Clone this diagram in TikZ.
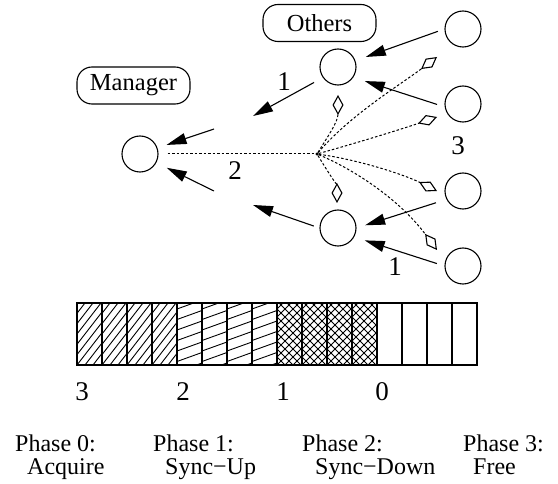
\documentclass[tikz,border=0pt]{standalone}
\usepackage{fontspec}
\setmainfont{Liberation Serif}
\usetikzlibrary{arrows.meta}
\begin{document}
\begin{tikzpicture}[x=1pt,y=-1pt,
  proc/.style={circle,draw,line width=1.1pt,minimum size=36pt,inner sep=0pt},
  tag/.style={draw,line width=1.1pt,rounded corners=15pt,minimum width=113pt,minimum height=37pt,inner sep=0pt,font=\fontsize{24.5}{28}\selectfont},
  msg/.style={line width=1.1pt,-{Triangle[length=20pt,width=11pt]}},
  sync/.style={line width=1pt,dash pattern=on 2.5pt off 2pt,-{Diamond[open,length=20pt,width=11pt,line width=1.1pt]}},
  dots/.style={line width=1pt,dash pattern=on 2.5pt off 2pt},
  num/.style={font=\fontsize{27}{30}\selectfont,inner sep=0pt},
  phase/.style={font=\fontsize{24}{23}\selectfont,inner sep=0pt,align=left,anchor=north west},
  cell/.style={draw,line width=1.1pt},
  hatch/.style={line width=0.9pt}]
\useasboundingbox (0,0) rectangle (558,484);

% labels
\node[tag] (mgr) at (133.5,85.5) {Manager};
\node[tag] (oth) at (319.5,23) {Others};

% processes
\node[proc] (C)  at (140,154) {};
\node[proc] (M1) at (338,67) {};
\node[proc] (B1) at (338,228) {};
\node[proc] (R1) at (463,29) {};
\node[proc] (R2) at (463,104) {};
\node[proc] (R3) at (463,191) {};
\node[proc] (R4) at (463,266) {};

% free ends of the message arrows
\coordinate (e1) at (253,116);
\coordinate (e2) at (253,205);
\coordinate (f1) at (214,129);
\coordinate (f2) at (214,191);

% broadcast hub
\node[circle,fill,inner sep=0pt,minimum size=3.5pt] (hub) at (317,154) {};
\coordinate (tM1) at (338,95);
\coordinate (tB1) at (337,203);
\coordinate (tR1) at (437,57);
\coordinate (tR2) at (437,117);
\coordinate (tR3) at (437,191);
\coordinate (tR4) at (437,250);

% message arrows
\draw[msg,shorten <=7pt,shorten >=11pt] (R1.180) -- (M1.20);
\draw[msg,shorten <=8pt,shorten >=12pt] (R2.189) -- (M1.-34);
\draw[msg,shorten <=11pt,shorten >=9pt] (R3.207) -- (B1.0);
\draw[msg,shorten <=8pt,shorten >=11pt] (R4.180) -- (B1.-29);
\draw[msg,shorten <=10pt] (M1.215) -- (e1);
\draw[msg,shorten <=6pt] (B1.180) -- (e2);
\draw[msg,shorten >=9.5pt] (f1) -- (C.19);
\draw[msg,shorten >=11.5pt] (f2) -- (C.-28);

% broadcast paths
\draw[dots,shorten <=9pt] (C.east) -- (hub);
\draw[sync] (hub) .. controls (328,136) and (338,122) .. (tM1);
\draw[sync] (hub) .. controls (328,172) and (337,186) .. (tB1);
\draw[sync] (hub) .. controls (350,115) and (400,85) .. (tR1);
\draw[sync] (hub) .. controls (360,142) and (405,128) .. (tR2);
\draw[sync] (hub) .. controls (360,160) and (405,175) .. (tR3);
\draw[sync] (hub) .. controls (355,170) and (400,200) .. (tR4);

% step numbers
\node[num] (n1) at (284,82) {1};
\node[num] (n2) at (235,171) {2};
\node[num] (n3) at (458,146) {3};
\node[num] (n4) at (395,267) {1};

% counter bar: steep hatching
\foreach \i in {0,...,3}{
  \begin{scope}
    \clip (77+25*\i,303) rectangle ++(25,62);
    \foreach \k in {-7,...,3}
      \draw[hatch] (77+25*\i+8*\k,365) -- ++(48,-62);
  \end{scope}
}
% shallow hatching
\foreach \i in {4,...,7}{
  \begin{scope}
    \clip (77+25*\i,303) rectangle ++(25,62);
    \foreach \k in {0,...,6}
      \draw[hatch] (77+25*\i,309+10.5*\k) -- ++(25,-9);
  \end{scope}
}
% cross hatching
\foreach \i in {8,...,11}{
  \begin{scope}
    \clip (77+25*\i,303) rectangle ++(25,62);
    \foreach \k in {-8,...,3}
      \draw[hatch] (77+25*\i+8*\k,365) -- ++(62,-62);
    \foreach \k in {0,...,11}
      \draw[hatch] (77+25*\i+8*\k,365) -- ++(-62,-62);
  \end{scope}
}
% cell borders
\foreach \i in {0,...,15}
  \draw[cell] (77+25*\i,303) rectangle ++(25,62);

% counter values
\node[num] (v3) at (82,392) {3};
\node[num] (v2) at (183,392) {2};
\node[num] (v1) at (283,392) {1};
\node[num] (v0) at (382,392) {0};

% phase names
\node[phase] (p0) at (15,435) {Phase 0:\\\hspace*{12pt}Acquire};
\node[phase] (p1) at (153,435) {Phase 1:\\\hspace*{12pt}Sync−Up};
\node[phase] (p2) at (302,435) {Phase 2:\\\hspace*{13pt}Sync−Down};
\node[phase] (p3) at (463,435) {Phase 3:\\\hspace*{10pt}Free};
\end{tikzpicture}
\end{document}
